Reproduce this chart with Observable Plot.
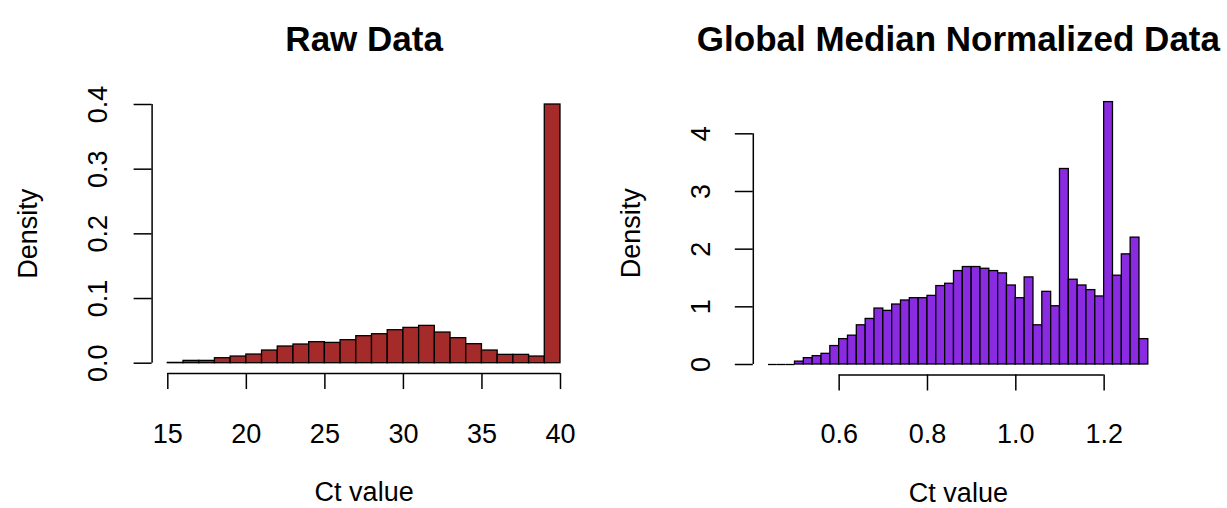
<!DOCTYPE html>
<html>
<head>
<meta charset="utf-8">
<script src="https://cdn.jsdelivr.net/npm/d3@7"></script>
<script src="https://cdn.jsdelivr.net/npm/@observablehq/plot@0.6"></script>
<style>
  html, body { margin: 0; padding: 0; background: #fff; }
  #wrap { display: flex; width: 1227px; height: 508px; overflow: hidden; }
  #wrap svg { font-family: "Liberation Sans", Arial, sans-serif; display: block; }
</style>
</head>
<body>
<div id="wrap"></div>
<script>
// ---- Raw Data histogram (Ct value, density) ----
const rawBreaks = [15,16,17,18,19,20,21,22,23,24,25,26,27,28,29,30,31,32,33,34,35,36,37,38,39,40];
const rawDensity = [0.0005,0.0036,0.0036,0.0077,0.0103,0.0134,0.0196,0.0258,0.0289,0.0325,0.0314,0.0356,0.0418,0.0448,0.0510,0.0546,0.0577,0.0474,0.0387,0.0294,0.0196,0.0129,0.0129,0.0103,0.4000];
const rawXTicks = [15,20,25,30,35,40];
const rawYTicks = [0,0.1,0.2,0.3,0.4];

// ---- Global Median Normalized histogram ----
const normBreaks = [0.44,0.46,0.48,0.50,0.52,0.54,0.56,0.58,0.60,0.62,0.64,0.66,0.68,0.70,0.72,0.74,0.76,0.78,0.80,0.82,0.84,0.86,0.88,0.90,0.92,0.94,0.96,0.98,1.00,1.02,1.04,1.06,1.08,1.10,1.12,1.14,1.16,1.18,1.20,1.22,1.24,1.26,1.28,1.30];
const normDensity = [0,0,0,0.05,0.11,0.145,0.185,0.32,0.44,0.50,0.68,0.79,0.97,0.93,1.04,1.11,1.15,1.15,1.19,1.36,1.40,1.62,1.69,1.69,1.66,1.62,1.58,1.37,1.15,1.51,0.68,1.26,1.01,3.39,1.47,1.37,1.29,1.18,4.55,1.54,1.91,2.20,0.44];
const normXTicks = [0.6,0.8,1.0,1.2];
const normYTicks = [0,1,2,3,4];

const FONT = '"Liberation Sans", Arial, sans-serif';

function panel(o) {
  const bins = o.density.map((d, i) => ({x1: o.breaks[i], x2: o.breaks[i + 1], y: d}));
  const b0 = o.breaks[0], b1 = o.breaks[o.breaks.length - 1];
  const xpad = 0.04 * (b1 - b0);
  const ymax = d3.max(o.density);
  const ypad = 0.04 * ymax;
  const xd = [b0 - xpad, b1 + xpad];
  const yd = [-ypad, ymax + ypad];
  return Plot.plot({
    width: o.width,
    height: 508,
    marginLeft: o.ml, marginRight: o.mr, marginTop: o.mt, marginBottom: o.mb,
    x: {domain: xd},
    y: {domain: yd},
    style: {fontFamily: FONT, background: "white", color: "black", overflow: "visible"},
    marks: [
      Plot.rect(bins.filter(d => d.y > 0), {x1: "x1", x2: "x2", y1: () => 0, y2: "y", fill: o.fill, stroke: "black", strokeWidth: 1.3}),
      // empty bins are drawn by R as flat outlines on the baseline
      Plot.ruleY(bins.filter(d => d.y === 0), {y: () => 0, x1: "x1", x2: "x2", stroke: "black", strokeWidth: 1.3}),
      // x axis line (first to last tick) + ticks + labels
      Plot.ruleY([yd[0]], {x1: () => o.xTicks[0], x2: () => o.xTicks[o.xTicks.length - 1], stroke: "black", strokeWidth: 1.5}),
      Plot.axisX(o.xTicks, {anchor: "bottom", tickSize: 16, tickPadding: o.xPad, fontSize: 27, tickFormat: o.fmtX, label: null, strokeWidth: 1.5}),
      // y axis line + ticks
      Plot.ruleX([xd[0]], {y1: () => o.yTicks[0], y2: () => o.yTicks[o.yTicks.length - 1], stroke: "black", strokeWidth: 1.5}),
      Plot.axisY(o.yTicks, {anchor: "left", tickSize: 18, tickFormat: () => "", label: null, strokeWidth: 1.5}),
      // rotated y tick labels
      Plot.text(o.yTicks, {y: d => d, frameAnchor: "left", dx: o.yLabDx, rotate: -90, text: o.fmtY, textAnchor: "middle", lineAnchor: "middle", fontSize: 27, fill: "black"}),
      // axis titles
      Plot.text(["Density"], {frameAnchor: "left", dx: o.yTitleDx, rotate: -90, text: d => d, textAnchor: "middle", lineAnchor: "middle", fontSize: 27, fill: "black"}),
      Plot.text(["Ct value"], {frameAnchor: "bottom", dy: o.xTitleDy, text: d => d, textAnchor: "middle", lineAnchor: "bottom", fontSize: 27, fill: "black"}),
      // main title
      Plot.text([o.title], {frameAnchor: "top", dy: o.titleDy, text: d => d, textAnchor: "middle", lineAnchor: "bottom", fontSize: 35, fontWeight: "bold", fill: "black"})
    ]
  });
}

const wrap = document.getElementById("wrap");
wrap.appendChild(panel({
  breaks: rawBreaks, density: rawDensity, xTicks: rawXTicks, yTicks: rawYTicks,
  fmtX: d => String(d), fmtY: d => d.toFixed(1),
  fill: "#A52A2A", title: "Raw Data",
  width: 613, ml: 151.6, mr: 37.3, mt: 93.65, mb: 134.95,
  xPad: 34, yLabDx: -53.5, yTitleDx: -124, xTitleDy: 127, titleDy: -43.5
}));
wrap.appendChild(panel({
  breaks: normBreaks, density: normDensity, xTicks: normXTicks, yTicks: normYTicks,
  fmtX: d => d.toFixed(1), fmtY: d => String(d),
  fill: "#8A2BE2", title: "Global Median Normalized Data",
  width: 614, ml: 139.8, mr: 64, mt: 91.1, mb: 133.5,
  xPad: 32.5, yLabDx: -52, yTitleDx: -122, xTitleDy: 126.5, titleDy: -41
}));
</script>
</body>
</html>
